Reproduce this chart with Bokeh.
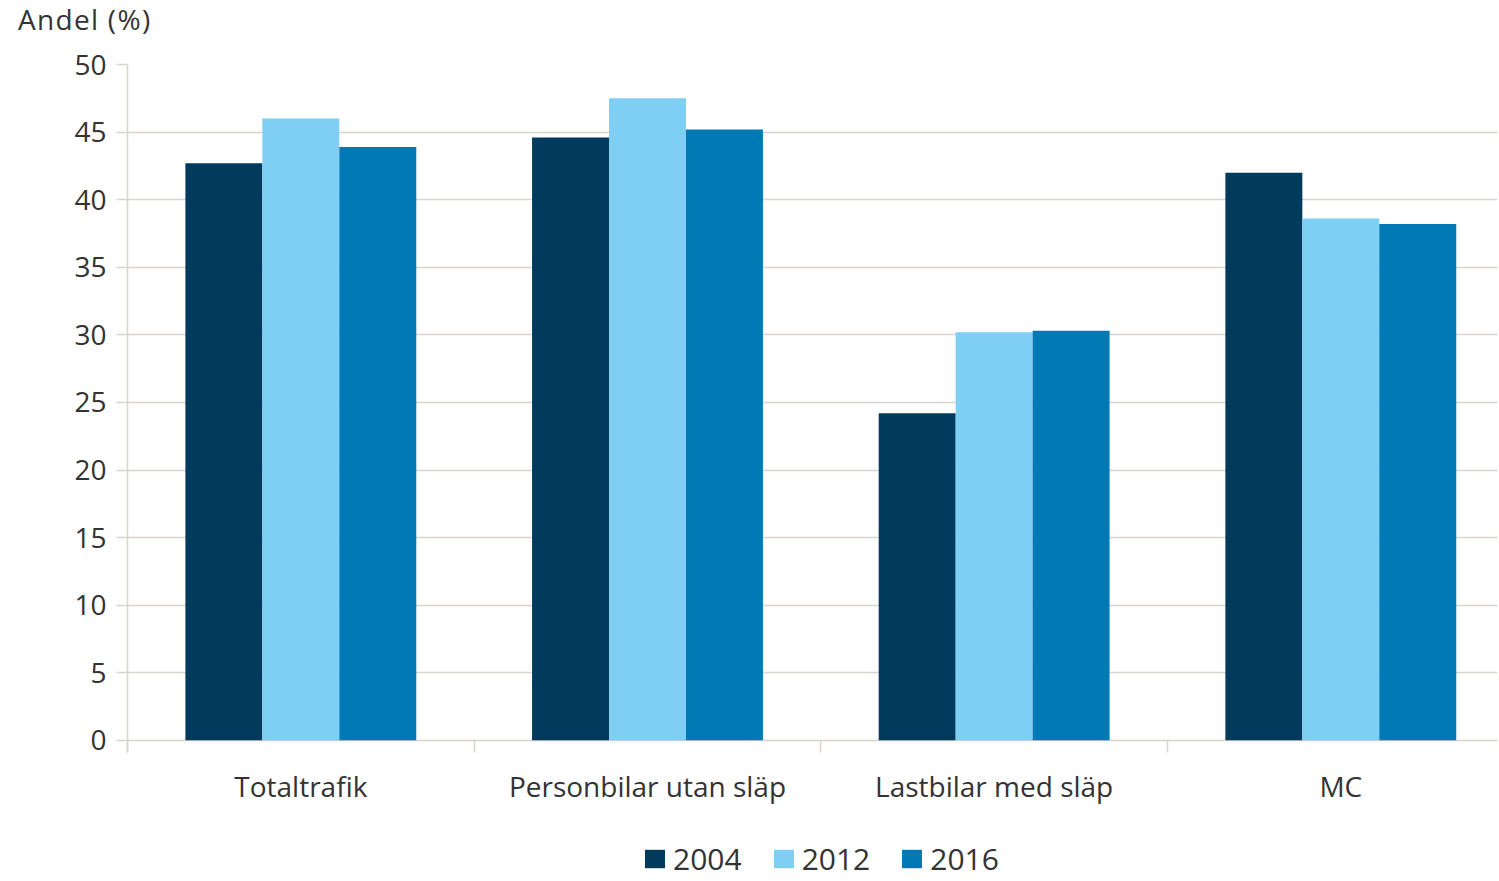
from bokeh.plotting import figure
from bokeh.models import FixedTicker, Range1d, Legend, LegendItem, ColumnDataSource, Div
from bokeh.layouts import column
from bokeh.transform import dodge
from bokeh.embed import file_html
from bokeh.resources import INLINE

categories = ["Totaltrafik", "Personbilar utan släp", "Lastbilar med släp", "MC"]
years = ["2004", "2012", "2016"]
v2004 = [42.7, 44.6, 24.2, 42.0]
v2012 = [46.0, 47.5, 30.2, 38.6]
v2016 = [43.9, 45.2, 30.3, 38.2]
y_ticks = [0, 5, 10, 15, 20, 25, 30, 35, 40, 45, 50]
colors = ["#003a5c", "#7fcef3", "#0079b5"]
y_title = "Andel (%)"

FONT = "Open Sans"
TXT = "#333333"
GRID = "#d8d4cf"

pos = [i + 0.5 for i in range(len(categories))]
src = ColumnDataSource(dict(pos=pos, cat=categories, v2004=v2004, v2012=v2012, v2016=v2016))

TOP_H = 44
MAIN_H = 786
LEG_H = 881 - TOP_H - MAIN_H

head = Div(text=y_title, width=1499, height=TOP_H, margin=0,
           styles={"font-family": FONT, "font-size": "28px", "line-height": "28px",
                   "letter-spacing": "1.3px",
                   "color": TXT, "padding-left": "18px", "padding-top": "5px",
                   "box-sizing": "border-box", "white-space": "nowrap"})

p = figure(width=1499, height=MAIN_H, title=None,
           x_range=Range1d(0, 3.952), y_range=Range1d(-0.9, 50),
           output_backend="svg", toolbar_location=None,
           min_border_left=127, min_border_right=2, min_border_top=64 - TOP_H,
           min_border_bottom=MAIN_H - (752 - TOP_H))
p.outline_line_color = None
p.background_fill_color = "white"

bw = 0.222
offsets = [-bw, 0.0, bw]
for yr, off, c in zip(years, offsets, colors):
    p.vbar(x=dodge("pos", off), top="v" + yr, bottom=0, width=bw, source=src,
           fill_color=c, line_color=None)

# y axis
p.yaxis.ticker = FixedTicker(ticks=y_ticks)
p.yaxis.axis_line_color = GRID
p.yaxis.axis_line_width = 1.5
p.yaxis.major_tick_line_color = GRID
p.yaxis.major_tick_line_width = 1.5
p.yaxis.major_tick_in = 0
p.yaxis.major_tick_out = 11
p.yaxis.minor_tick_line_color = None
p.yaxis.major_label_standoff = 10
p.yaxis.major_label_text_font = FONT
p.yaxis.major_label_text_font_size = "28px"
p.yaxis.major_label_text_color = TXT

p.ygrid.ticker = FixedTicker(ticks=y_ticks)
p.ygrid.grid_line_color = GRID
p.ygrid.grid_line_width = 1.5
p.xgrid.grid_line_color = None

# x axis: labels at centres, tick marks at group boundaries
p.xaxis.ticker = FixedTicker(ticks=pos, minor_ticks=[0, 1, 2, 3])
p.xaxis.major_label_overrides = {pv: c for pv, c in zip(pos, categories)}
p.xaxis.axis_line_color = None
p.xaxis.major_tick_line_color = None
p.xaxis.minor_tick_line_color = GRID
p.xaxis.minor_tick_line_width = 1.5
p.xaxis.minor_tick_in = 12
p.xaxis.minor_tick_out = 0
p.xaxis.major_label_standoff = 8
p.xaxis.major_label_text_font = FONT
p.xaxis.major_label_text_font_size = "28px"
p.xaxis.major_label_text_color = TXT

# legend strip below the chart
lg = figure(width=1499, height=LEG_H, x_range=Range1d(0, 1), y_range=Range1d(0, 1),
            output_backend="svg", toolbar_location=None, title=None,
            x_axis_type=None, y_axis_type=None,
            min_border_left=0, min_border_right=0, min_border_top=0, min_border_bottom=0)
lg.outline_line_color = None
lg.xgrid.grid_line_color = None
lg.ygrid.grid_line_color = None
items = []
for yr, c in zip(years, colors):
    r = lg.vbar(x="pos", top="v" + yr, width=bw, source=src, fill_color=c, line_color=None,
                visible=False)
    items.append(LegendItem(label=yr, renderers=[r]))

legend = Legend(items=items, orientation="horizontal", location=(515, 2))
legend.glyph_width = 25
legend.glyph_height = 23
legend.label_height = 23
legend.label_standoff = 6
legend.spacing = 29
legend.padding = 0
legend.margin = 0
legend.border_line_color = None
legend.background_fill_alpha = 0
legend.inactive_fill_alpha = 0
legend.label_text_font = FONT
legend.label_text_font_size = "30px"
legend.label_text_color = TXT
lg.add_layout(legend, "center")

layout = column(head, p, lg, spacing=0)
open("out.html", "w").write(file_html(layout, INLINE))
